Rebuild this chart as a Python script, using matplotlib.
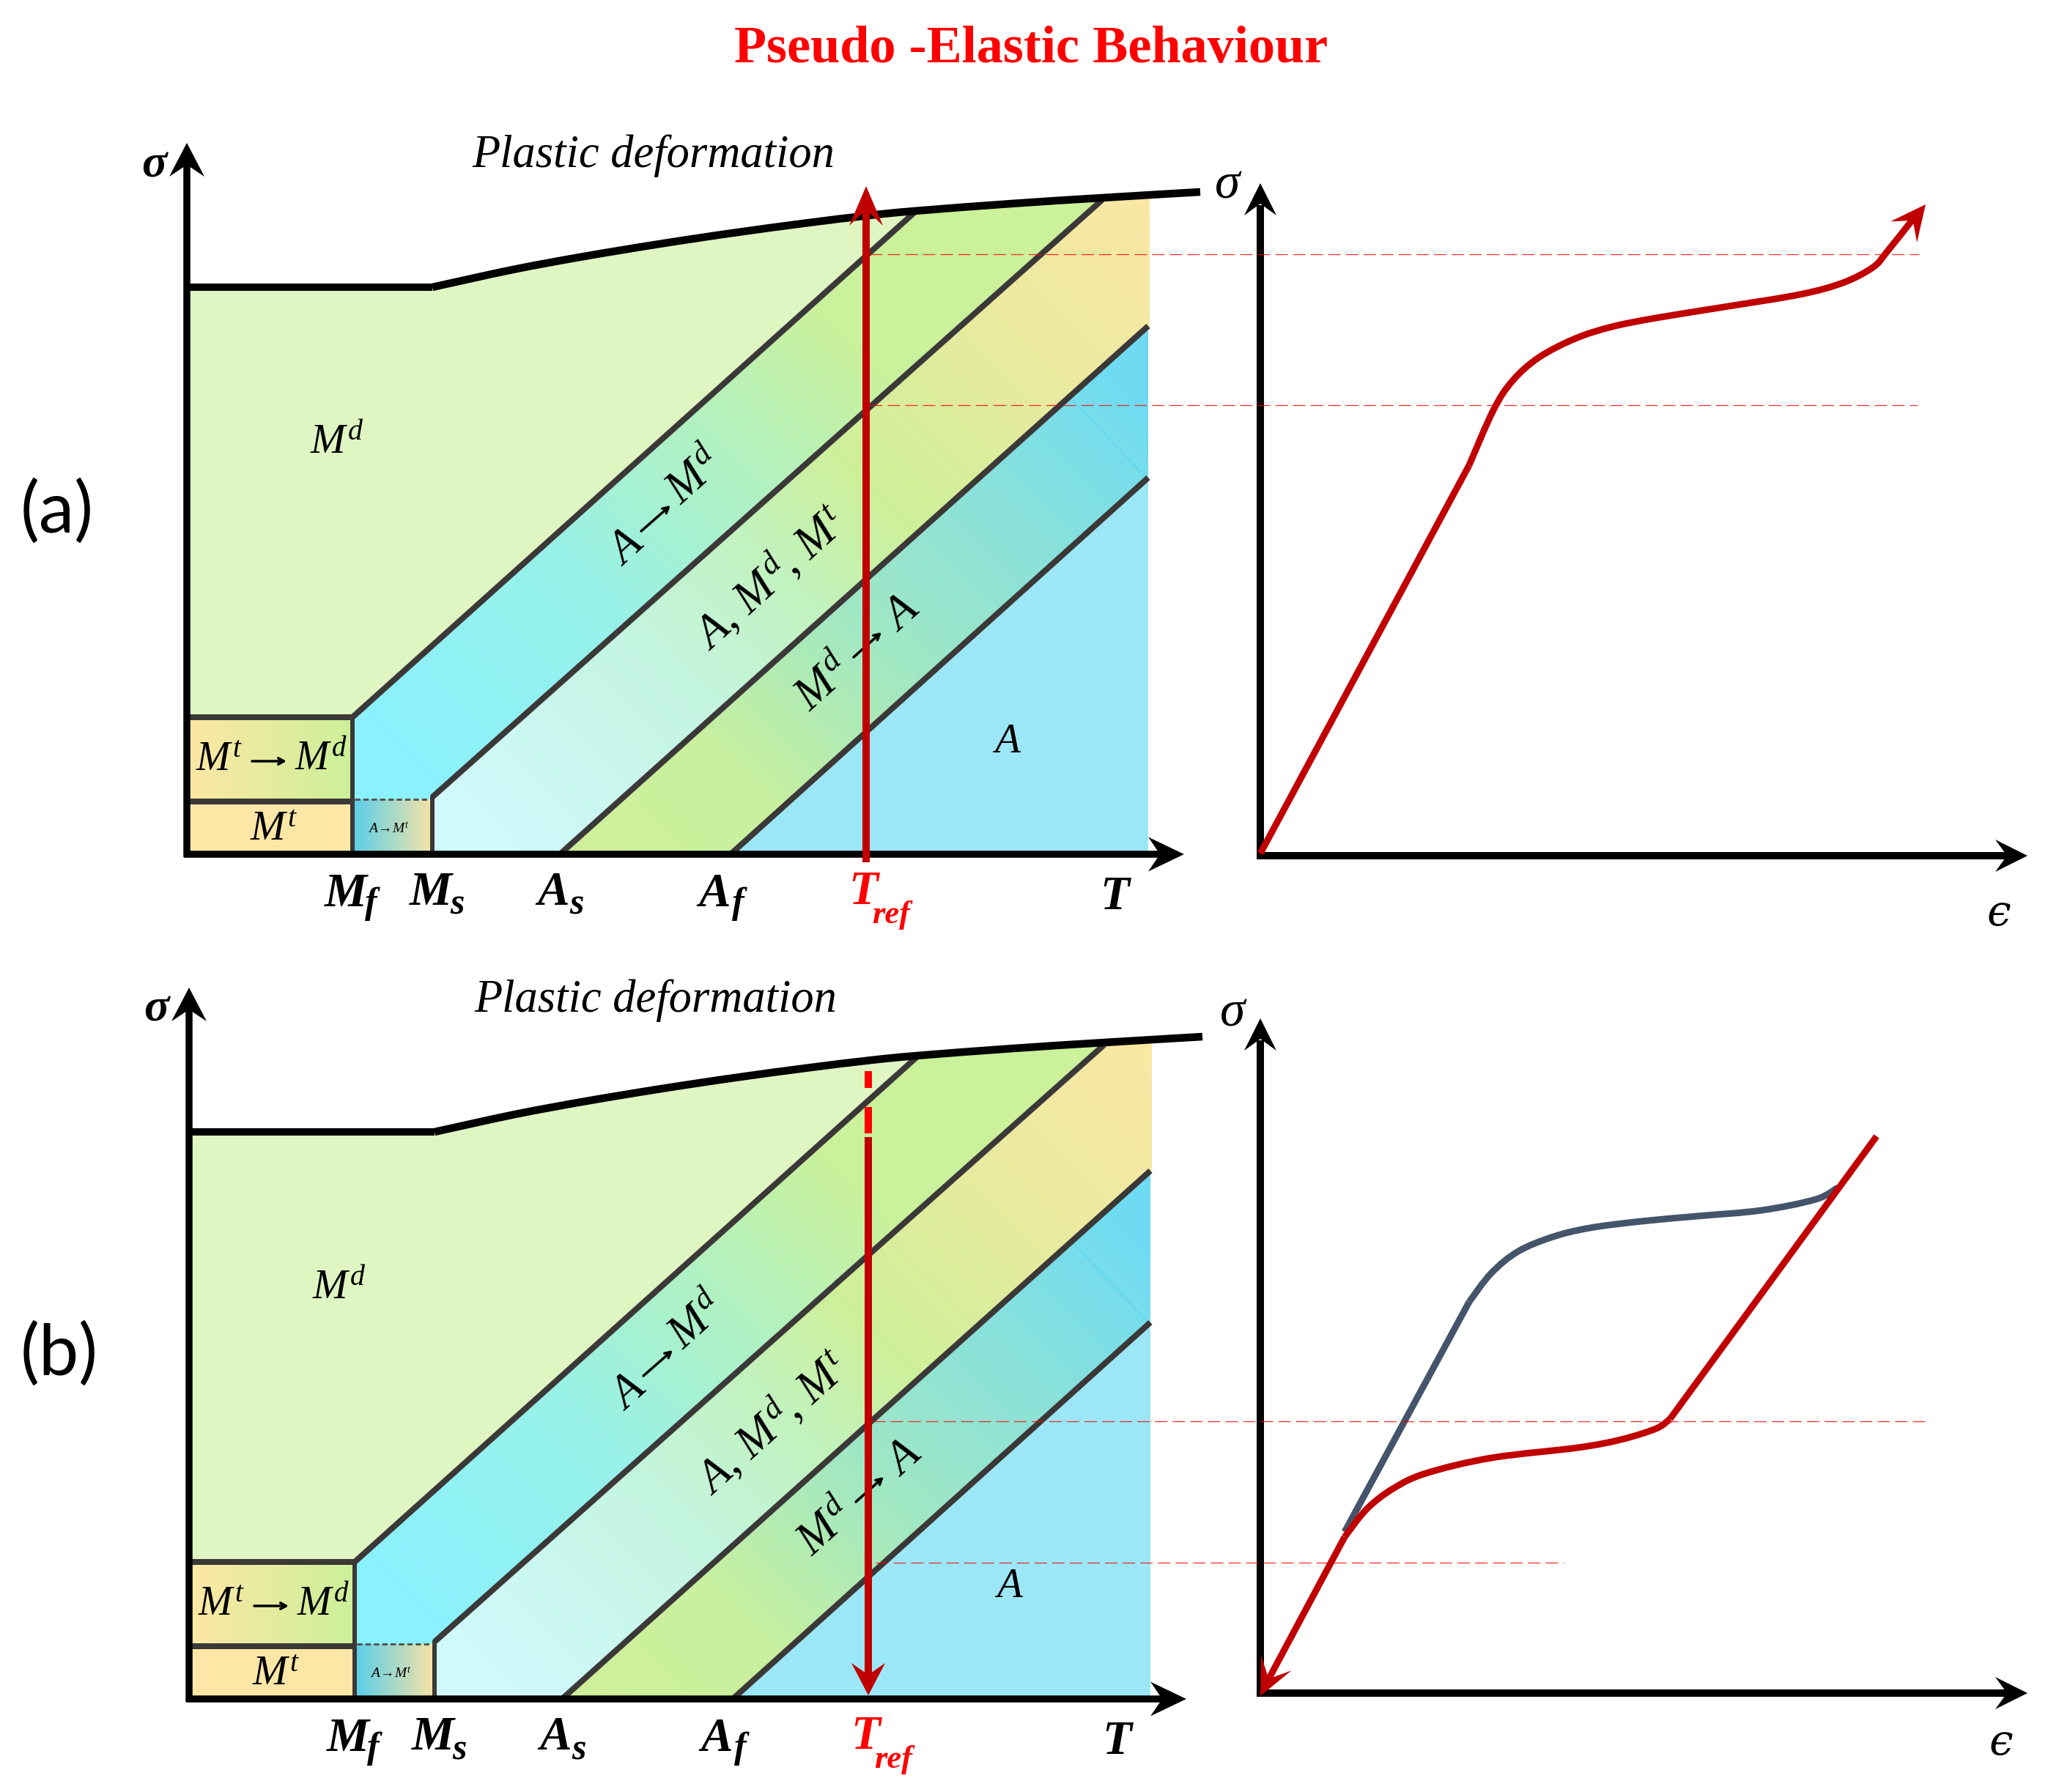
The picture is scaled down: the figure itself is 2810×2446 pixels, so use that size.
import numpy as np
import matplotlib
matplotlib.use("Agg")
import matplotlib.pyplot as plt
from matplotlib.colors import LinearSegmentedColormap, to_rgb
from matplotlib.patches import Polygon, PathPatch
from matplotlib.path import Path

plt.rcParams.update({
    "font.family": ["Liberation Serif", "DejaVu Serif"],
    "mathtext.fontset": "custom",
    "mathtext.rm": "Liberation Serif",
    "mathtext.it": "Liberation Serif:italic",
    "mathtext.bf": "Liberation Serif:bold",
    "mathtext.fallback": "cm",
})

W, H = 2810, 2446

# ---- phase diagram boundaries (temperature x, stress y, in picture units)
T_MF, T_MS, T_AS, T_AF, T_REF, T_END = 481, 590, 764, 997, 1182, 1567
T0, S0 = 255, 1166
S_BOX_TOP, S_MT_TOP, S_MS_TOP = 979, 1094, 1088
PLASTIC_T = [590, 700, 797, 900, 1000, 1100, 1182, 1248, 1380, 1504, 1638]
PLASTIC_S = [392, 368, 350, 333, 318, 304.5, 294.5, 288, 278, 270, 262]
LINE1 = ([T_MF, 1248], [S_BOX_TOP, 290])
LINE2 = ([T_MS, 1504], [S_MS_TOP, 273])
LINE3 = ([T_AS, T_END], [S0, 445])
LINE4 = ([T_AF, T_END], [S0, 652])

# ---- stress-strain curves
A_EPS = [2005, 2038, 2064, 2100, 2150, 2200, 2260, 2353, 2456, 2515, 2556, 2575, 2610]
A_SIG = [635, 560, 520, 488, 462, 446, 434, 419, 402, 386, 365, 344, 300]
B_UP_EPS = [2005, 2035, 2072, 2120, 2170, 2240, 2316, 2404, 2478, 2508]
B_UP_SIG = [1777, 1738, 1708, 1688, 1676, 1667, 1660, 1652, 1637, 1621]
B_DN_EPS = [2279, 2260, 2212, 2153, 2035, 1946, 1901, 1865, 1835]
B_DN_SIG = [1937, 1950, 1965, 1976, 1990, 2011, 2032, 2060, 2098]

TITLE = "Pseudo -Elastic Behaviour"
RED, DARK_RED, GREY, SLATE = "#FF0000", "#C00000", "#3B3838", "#44546A"


def px(n):
    return n * 0.72


fig = plt.figure(figsize=(W / 100, H / 100), dpi=100, facecolor="white")
ax = fig.add_axes([0, 0, 1, 1])
ax.axis("off")


def smooth(x, y):
    pts = np.column_stack([x, y]).astype(float)
    p = np.vstack([pts[0], pts, pts[-1]])
    verts, codes = [pts[0]], [Path.MOVETO]
    for i in range(1, len(p) - 2):
        verts += [p[i] + (p[i + 1] - p[i - 1]) / 6, p[i + 1] - (p[i + 2] - p[i]) / 6, p[i + 1]]
        codes += [Path.CURVE4] * 3
    return Path(verts, codes)


def head(tip, d, length, half, notch, color, z=6):
    tip = np.array(tip, float)
    d = np.array(d, float) / np.hypot(*d)
    n = np.array([-d[1], d[0]])
    base = tip - d * length
    poly = [tip, base + n * half, tip - d * notch, base - n * half]
    ax.add_patch(Polygon(poly, closed=True, fc=color, ec="none", zorder=z))


def fill_grad(poly, stops, kind="diag", off=0.0, z=1):
    poly = np.array(poly, float)
    x0, x1, y0, y1 = poly[:, 0].min(), poly[:, 0].max(), poly[:, 1].min(), poly[:, 1].max()
    xs = np.linspace(x0, x1, max(int(x1 - x0), 2))
    ys = np.linspace(y0, y1, max(int(y1 - y0), 2))
    xx, yy = np.meshgrid(xs, ys)
    s_vals = [a for a, _ in stops]
    lo, hi = s_vals[0], s_vals[-1]
    cmap = LinearSegmentedColormap.from_list(
        "g", [((a - lo) / (hi - lo), to_rgb(c)) for a, c in stops], N=512)
    s = (xx - yy - off) if kind == "diag" else (xx - x0)
    im = ax.imshow(cmap(np.clip((s - lo) / (hi - lo), 0, 1)),
                   extent=(x0, x1, y1, y0), aspect="auto", zorder=z, interpolation="bilinear")
    im.set_clip_path(Polygon(poly, closed=True, transform=ax.transData))


BAND1 = [(-498, "#8AF2FE"), (0, "#98F1E8"), (400, "#B4F1BE"), (700, "#CAF19C"), (1300, "#CDF29B")]
BAND2 = [(-450, "#D0F9FB"), (0, "#C4F5E0"), (300, "#C2F2BC"), (520, "#CEF09A"), (950, "#ECEAA0"), (1300, "#FBE7A5")]
BAND3 = [(-400, "#D0F09A"), (-50, "#C8F09F"), (300, "#A2E8C2"), (700, "#88E1DC"), (1000, "#70DCF2"), (1300, "#6FDBF4")]


def sub_label(xm, ym, main, xs, ys, sub, color, dx, dy, sub_size=36):
    kw = dict(ha="center", va="baseline", color=color, style="italic", weight="bold", zorder=7)
    ax.text(xm + dx, ym + dy, main, fontsize=47, **kw)
    if sub:
        ax.text(xs + dx, ys + dy, sub, fontsize=sub_size, **kw)


def small_arrow(x0, y0, x1, y1, lw):
    ax.annotate("", xy=(x1, y1), xytext=(x0, y0), zorder=4,
                arrowprops=dict(arrowstyle="->,head_length=0.55,head_width=0.3", color="k",
                                lw=px(lw), shrinkA=0, shrinkB=0))


def left_panel(dx, dy, arrow_down):
    sh = np.array([dx, dy], float)
    off = dx - dy
    pt = np.column_stack([PLASTIC_T, PLASTIC_S]).astype(float)
    before = pt[pt[:, 0] <= 1248]
    between = pt[(pt[:, 0] >= 1248) & (pt[:, 0] <= 1504)]

    md = [(T0, 392), *map(tuple, before), (T_MF, S_BOX_TOP), (T0, S_BOX_TOP)]
    ax.add_patch(Polygon(np.array(md) + sh, closed=True, fc="#DFF6C2", ec="none", zorder=1))
    b1 = [(T_MF, S_BOX_TOP), *map(tuple, between), (T_MS, S_MS_TOP), (T_MS, S_MT_TOP), (T_MF, S_MT_TOP)]
    fill_grad(np.array(b1) + sh, BAND1, off=off)
    b2 = [(T_MS, S_MS_TOP), (1504, 270), (1569, 266), (1569, 445), (T_AS, S0), (T_MS, S0)]
    fill_grad(np.array(b2) + sh, BAND2, off=off)
    b3 = [(T_AS, S0), (T_END, 445), (T_END, 652), (T_AF, S0)]
    fill_grad(np.array(b3) + sh, BAND3, off=off)
    a = [(T_AF, S0), (T_END, 652), (T_END, S0)]
    ax.add_patch(Polygon(np.array(a) + sh, closed=True, fc="#9CE7F7", ec="none", zorder=1))
    ax.plot(np.array([1460, 1562]) + dx, np.array([542, 650]) + dy, color="#60D8F4", lw=px(1.5), zorder=2)

    fill_grad(np.array([(T0, S_BOX_TOP), (T_MF, S_BOX_TOP), (T_MF, S_MT_TOP), (T0, S_MT_TOP)]) + sh,
              [(0, "#FDE7A4"), (226, "#CCF09A")], kind="x")
    ax.add_patch(Polygon(np.array([(T0, S_MT_TOP), (T_MF, S_MT_TOP), (T_MF, S0), (T0, S0)]) + sh,
                         closed=True, fc="#FEE7A6", ec="none", zorder=1))
    fill_grad(np.array([(T_MF, S_MT_TOP - 3), (T_MS, S_MT_TOP - 3), (T_MS, S0), (T_MF, S0)]) + sh,
              [(0, "#58CEEA"), (109, "#F7E4A5")], kind="x")

    for lx, ly in (LINE1, LINE2, LINE3, LINE4):
        ax.plot(np.array(lx) + dx, np.array(ly) + dy, color=GREY, lw=px(8),
                solid_capstyle="butt", zorder=3)
    ax.plot(np.array([T0, T_MF + 3]) + dx, np.array([S_BOX_TOP, S_BOX_TOP]) + dy, color=GREY, lw=px(8), solid_capstyle="butt", zorder=3)
    ax.plot(np.array([T0, T_MF + 3]) + dx, np.array([S_MT_TOP, S_MT_TOP]) + dy, color=GREY, lw=px(8), solid_capstyle="butt", zorder=3)
    ax.plot(np.array([T_MF, T_MF]) + dx, np.array([S_BOX_TOP - 3, S0]) + dy, color=GREY, lw=px(6), solid_capstyle="butt", zorder=3)
    ax.plot(np.array([T_MS, T_MS]) + dx, np.array([S_MS_TOP - 2, S0]) + dy, color=GREY, lw=px(6), solid_capstyle="butt", zorder=3)
    ax.plot(np.array([T_MF + 3, T_MS - 3]) + dx, np.array([S_MT_TOP - 3, S_MT_TOP - 3]) + dy, color="#555555",
            lw=px(3), dashes=(2.4, 1.4), zorder=3)

    # plastic limit and axes
    ax.plot(np.array([T0, 590]) + dx, np.array([392, 392]) + dy, color="k", lw=px(10), solid_capstyle="butt", zorder=5)
    c = smooth(pt[:, 0] + dx, pt[:, 1] + dy)
    ax.add_patch(PathPatch(c, fc="none", ec="k", lw=px(10.5), capstyle="butt", zorder=5))
    ax.plot([T0 + dx, T0 + dx], [S0 + 4 + dy, 225 + dy], color="k", lw=px(9.5), solid_capstyle="butt", zorder=5)
    head((T0 + dx, 195 + dy), (0, -1), 46, 24, 30, "k")
    ax.plot([T0 - 4 + dx, 1590 + dx], [S0 + dy, S0 + dy], color="k", lw=px(9.5), solid_capstyle="butt", zorder=5)
    head((1616 + dx, S0 + dy), (1, 0), 49, 23.5, 33, "k")

    # text
    kw = dict(ha="center", va="center", color="k", zorder=4)
    ax.text(892 + dx, 213 + dy, "Plastic deformation", fontsize=45, style="italic", **kw)
    ax.text(460 + dx, 606 + dy, r"$M^{d}$", fontsize=41, **kw)
    ax.text(1374 + dx, 1013 + dy, r"$A$", fontsize=41, **kw)
    ax.text(299 + dx, 1038 + dy, r"$M^{t}$", fontsize=40, **kw)
    small_arrow(344 + dx, 1039 + dy, 391 + dx, 1039 + dy, 3.5)
    ax.text(438 + dx, 1038 + dy, r"$M^{d}$", fontsize=40, **kw)
    ax.text(374 + dx, 1133 + dy, r"$M^{t}$", fontsize=41, **kw)
    ax.text(531 + dx, 1131 + dy, r"$A\!\rightarrow\!M^{t}$", fontsize=14, **kw)
    rk = dict(rotation=42, rotation_mode="anchor", **kw)
    ax.text(855 + dx, 748 + dy, r"$A$", fontsize=45, **rk)
    small_arrow(875 + dx, 725 + dy, 915 + dx, 690 + dy, 3.5)
    ax.text(950 + dx, 652 + dy, r"$M^{d}$", fontsize=45, **rk)
    ax.text(1052 + dx, 790 + dy, r"$A,\,M^{d},\,M^{t}$", fontsize=45, **rk)
    ax.text(1126 + dx, 934 + dy, r"$M^{d}$", fontsize=45, **rk)
    small_arrow(1165 + dx, 897 + dy, 1203 + dx, 863 + dy, 3.5)
    ax.text(1231 + dx, 838 + dy, r"$A$", fontsize=45, **rk)

    sub_label(472, 1237, "M", 506, 1246, "f", "k", dx, dy)
    sub_label(588, 1235, "M", 624, 1248, "s", "k", dx, dy)
    sub_label(755, 1235, "A", 787, 1248, "s", "k", dx, dy)
    sub_label(975, 1237, "A", 1007, 1246, "f", "k", dx, dy)
    sub_label(1521, 1241, "T", 0, 0, "", "k", dx, dy)
    sub_label(1178, 1234, "T", 1216, 1260, "ref", RED, dx, dy, sub_size=32)
    ax.text(210 + dx, 226 + dy, "\u03c3", fontsize=46, style="italic", weight="bold",
            ha="center", va="center", color="k", zorder=7)

    # reference temperature path
    tx = T_REF + dx
    if arrow_down:
        ax.plot([tx, tx], [1462 - 1153 + dy, 1485 - 1153 + dy], color=RED, lw=px(10), solid_capstyle="butt", zorder=8)
        ax.plot([tx, tx], [1511 - 1153 + dy, 1547 - 1153 + dy], color=RED, lw=px(10), solid_capstyle="butt", zorder=8)
        ax.plot([tx, tx], [1552 - 1153 + dy, 1135 + dy], color=DARK_RED, lw=px(10), solid_capstyle="butt", zorder=8)
        head((tx, 1161 + dy), (0, 1), 44, 23, 28, DARK_RED, z=9)
    else:
        ax.plot([tx, tx], [285 + dy, 1177 + dy], color=DARK_RED, lw=px(10), solid_capstyle="butt", zorder=8)
        head((tx, 254 + dy), (0, -1), 54, 23, 32, DARK_RED, z=9)


def right_axes(y0, tip_y, sig_xy, eps_xy):
    x0 = 1720
    ax.plot([x0, x0], [y0 + 5, tip_y + 30], color="k", lw=px(10), solid_capstyle="butt", zorder=5)
    head((x0, tip_y), (0, -1), 44, 22, 28, "k")
    ax.plot([x0 - 5, 2745], [y0, y0], color="k", lw=px(10), solid_capstyle="butt", zorder=5)
    head((2767, y0), (1, 0), 44, 22, 28, "k")
    ax.text(*sig_xy, "\u03c3", fontsize=50, style="italic", ha="center", va="center", zorder=7)
    ax.text(*eps_xy, "\u03f5", family="DejaVu Serif", style="italic", fontsize=42,
            ha="center", va="center", zorder=7)


def dashed(x0, x1, y):
    ax.plot([x0, x1], [y, y], color=RED, alpha=0.8, lw=px(1.3), dashes=(13, 5.5), zorder=9)


left_panel(0, 0, False)
left_panel(3, 1153, True)

# (a) stress-strain
CW = px(9)
right_axes(1168, 250, (1675, 254), (2728, 1247))
ax.plot([1720, A_EPS[0]], [1165, A_SIG[0]], color=DARK_RED, lw=CW, solid_capstyle="butt", zorder=6)
ax.add_patch(PathPatch(smooth(A_EPS, A_SIG), fc="none", ec=DARK_RED, lw=CW, capstyle="butt", zorder=6))
head((2628, 279), (0.62, -0.78), 48, 23, 28, DARK_RED)
dashed(1187, 2619, 347)
dashed(1187, 2617, 553)

# (b) stress-strain
right_axes(2311, 1390, (1682, 1384), (2731, 2379))
ax.plot([1835, B_UP_EPS[0]], [2091, B_UP_SIG[0]], color=SLATE, lw=CW, solid_capstyle="butt", zorder=6)
ax.add_patch(PathPatch(smooth(B_UP_EPS, B_UP_SIG), fc="none", ec=SLATE, lw=CW, capstyle="butt", zorder=6))
ax.plot([2561, B_DN_EPS[0]], [1551, B_DN_SIG[0]], color=DARK_RED, lw=CW, solid_capstyle="butt", zorder=7)
ax.add_patch(PathPatch(smooth(B_DN_EPS, B_DN_SIG), fc="none", ec=DARK_RED, lw=CW, capstyle="butt", zorder=7))
ax.plot([B_DN_EPS[-1], 1727], [B_DN_SIG[-1], 2300], color=DARK_RED, lw=CW, solid_capstyle="butt", zorder=7)
head((1720, 2315), (-0.44, 0.9), 50, 23, 26, DARK_RED, z=8)
dashed(1191, 2628, 1939.5)
dashed(1195, 2134, 2132.5)

# titles and panel tags
ax.text(1407, 67, TITLE, fontsize=52, weight="bold", color=RED, ha="center", va="center", zorder=10)
ax.text(78, 699, "(a)", family="Lato", fontsize=70, color="k", ha="center", va="center")
ax.text(81, 1849, "(b)", family="Lato", fontsize=70, color="k", ha="center", va="center")

ax.set_xlim(0, W)
ax.set_ylim(H, 0)
fig.savefig("out.png", dpi=100, facecolor="white")
